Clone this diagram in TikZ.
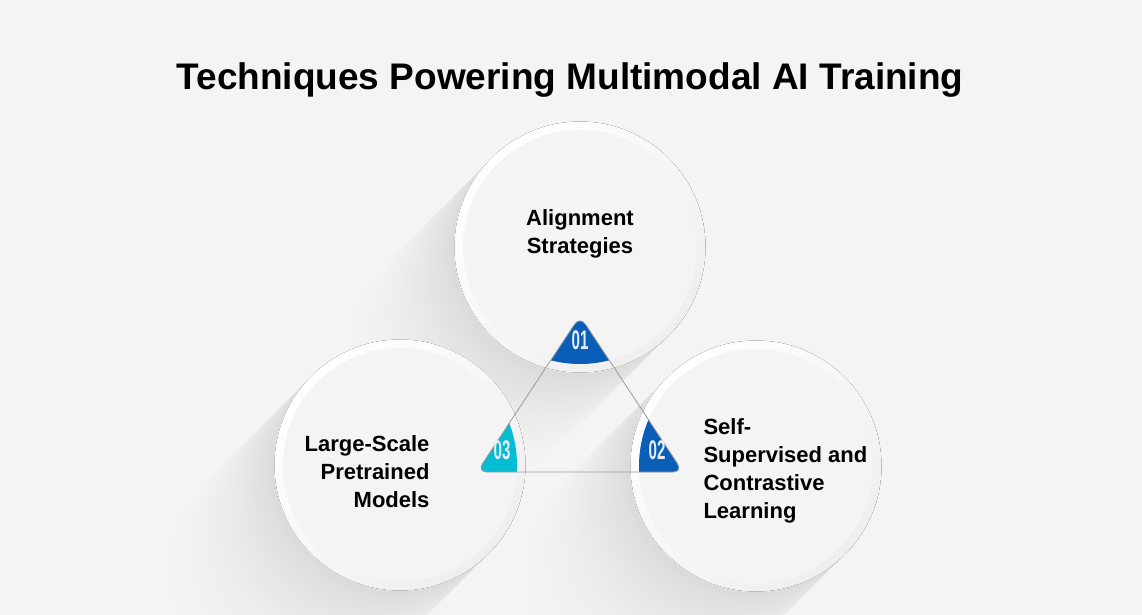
\documentclass[tikz,border=0pt]{standalone}
\usepackage{fontspec}
\setmainfont{Liberation Sans}
\usepackage{tikz}
\usetikzlibrary{calc}
\definecolor{bggray}{HTML}{F4F4F4}
\definecolor{shadowgray}{HTML}{DADADA}
\definecolor{ringgray}{HTML}{EEEEEE}
\definecolor{badgeblue}{HTML}{0A5EB8}
\definecolor{badgecyan}{HTML}{06BCD2}
\definecolor{numwhite}{HTML}{E4ECF4}
\definecolor{edgegray}{HTML}{9A9A9A}

\begin{document}
\begin{tikzpicture}[x=1pt,y=-1pt,
	ring/.style={shading=axis,top color=white,bottom color=ringgray,shading angle=45},
	label/.style={text=black,font=\bfseries\fontsize{22}{28}\selectfont},
	num/.style={text=numwhite,font=\bfseries\fontsize{27}{27}\selectfont}]
	\useasboundingbox (0,0) rectangle (1142,615);
	\fill[bggray] (0,0) rectangle (1142,615);
	\coordinate (ca) at (580,247);
	\coordinate (cb) at (756,466);
	\coordinate (cc) at (400,465);
	\foreach \ctr in {ca,cb,cc}{
		\foreach \k in {45,...,1}{
			\pgfmathsetmacro\p{100*(1-\k/46)^2.2}
			\fill[shadowgray!\p!bggray] ($(\ctr)+(-2.8*\k,2.8*\k)$) circle (125pt);
		}
	}
	\foreach \ctr in {ca,cb,cc}{
		\fill[white] (\ctr) circle (126pt);
		\begin{scope}
			\clip (\ctr) circle (125.5pt);
			\fill[ring] ($(\ctr)+(-130,-130)$) rectangle ($(\ctr)+(130,130)$);
		\end{scope}
		\fill[bggray] (\ctr) circle (117pt);
	}
	\coordinate (t1) at (580,316);
	\coordinate (t2) at (683,472);
	\coordinate (t3) at (477,472);
	\foreach \ctr/\col in {ca/badgeblue,cb/badgeblue,cc/badgecyan}{
		\begin{scope}
			\clip (\ctr) circle (117pt);
			\fill[\col,rounded corners=10pt] (t1) -- (t2) -- (t3) -- cycle;
		\end{scope}
	}
	\draw[edgegray,line width=0.8pt,rounded corners=10pt] (t1) -- (t2) -- (t3) -- cycle;
	\node[num] (n1) at (580,340) {\scalebox{0.56}[1]{01}};
	\node[num] (n2) at (657,450) {\scalebox{0.56}[1]{02}};
	\node[num] (n3) at (502,450) {\scalebox{0.56}[1]{03}};
	\node[font=\bfseries\fontsize{37}{44}\selectfont,anchor=base] (title) at (570,90) {Techniques Powering Multimodal AI Training};
	\node[label,align=center,anchor=base] (align) at (580,253) {Alignment\\Strategies};
	\node[label,align=left,anchor=base west] (self) at (700,518) {Self-\\Supervised and\\Contrastive\\Learning};
	\node[label,align=right,anchor=base east] (large) at (433,507) {Large-Scale\\Pretrained\\Models};
\end{tikzpicture}
\end{document}
